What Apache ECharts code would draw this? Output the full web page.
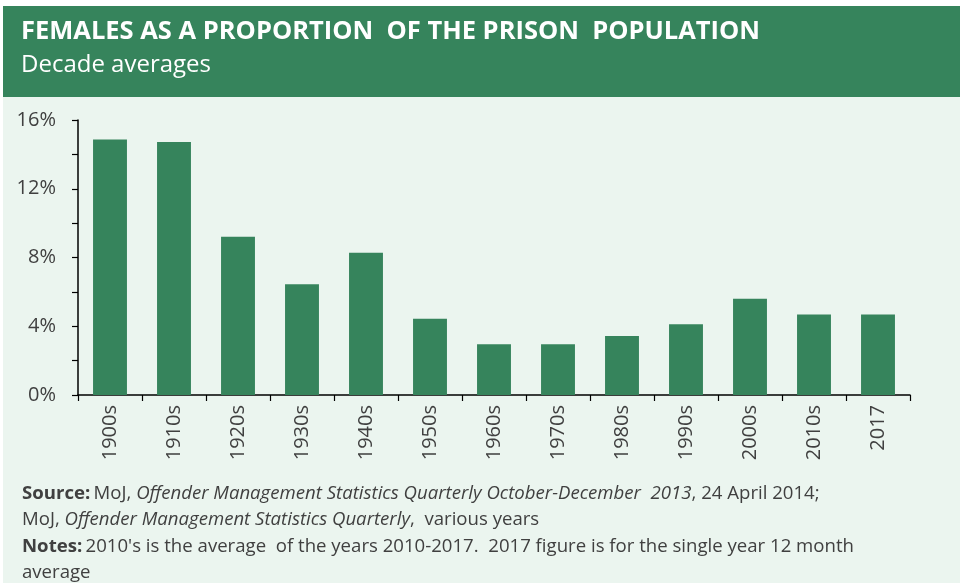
<!DOCTYPE html>
<html><head><meta charset="utf-8">
<script src="https://cdn.jsdelivr.net/npm/echarts@6/dist/echarts.min.js"></script>
<style>html,body{margin:0;padding:0;background:#fff}#c{width:960px;height:583px}</style>
</head><body><div id="c"></div>
<script>
const categories = ['1900s','1910s','1920s','1930s','1940s','1950s','1960s','1970s','1980s','1990s','2000s','2010s','2017'];
const femaleShare = [14.87, 14.72, 9.21, 6.44, 8.28, 4.44, 2.95, 2.95, 3.43, 4.11, 5.6, 4.69, 4.69];
const yTicks = [0, 4, 8, 12, 16];

const green = '#36845c';
const bg = '#ebf5ef';
const font = '"Open Sans", "DejaVu Sans", sans-serif';

const chart = echarts.init(document.getElementById('c'), null, {renderer: 'canvas'});
chart.setOption({
  backgroundColor: '#ffffff',
  animation: false,
  graphic: [
    {type: 'rect', z: -10, shape: {x: 3, y: 97, width: 957, height: 486}, style: {fill: bg}},
    {type: 'rect', z: -10, shape: {x: 3, y: 6, width: 957, height: 91}, style: {fill: green}},
    {type: 'text', left: 21, top: 19, style: {text: 'FEMALES AS A PROPORTION  OF THE PRISON  POPULATION', fill: '#fff', font: 'bold 25.5px ' + font}},
    {type: 'text', left: 21, top: 53, style: {text: 'Decade averages', fill: '#fff', font: '24px ' + font}},
    {type: 'text', left: 22, top: 480, style: {
      text: '{b|Source:} {n|MoJ, }{i|Offender Management Statistics Quarterly October-December  2013}{n|, 24 April 2014;}\n{n|MoJ, }{i|Offender Management Statistics Quarterly}{n|,  various years}\n{b|Notes:} {n|2010\'s is the average  of the years 2010-2017.  2017 figure is for the single year 12 month}\n{n|average}',
      lineHeight: 26.5,
      rich: {
        b: {font: 'bold 18.6px ' + font, fill: '#404040', lineHeight: 26.5},
        n: {font: '18.6px ' + font, fill: '#404040', lineHeight: 26.5},
        i: {font: 'italic 18.6px ' + font, fill: '#404040', lineHeight: 26.5}
      }
    }}
  ],
  grid: {left: 78, right: 50, top: 120, bottom: 188, containLabel: false},
  xAxis: {
    type: 'category',
    data: categories,
    boundaryGap: true,
    axisLine: {lineStyle: {color: '#000', width: 1.5}},
    axisTick: {show: true, length: 6, lineStyle: {color: '#000', width: 1.2}},
    axisLabel: {rotate: 90, color: '#404040', fontSize: 20, fontFamily: font, margin: 10}
  },
  yAxis: {
    type: 'value',
    min: 0, max: 16, interval: 2,
    axisLine: {show: true, lineStyle: {color: '#000', width: 1.5}},
    axisTick: {show: true, length: 6, lineStyle: {color: '#000', width: 1.2}},
    splitLine: {show: false},
    axisLabel: {
      color: '#404040', fontSize: 20, fontFamily: font, margin: 22,
      formatter: v => yTicks.includes(v) ? v + '%' : ''
    }
  },
  series: [{
    type: 'bar',
    data: femaleShare,
    barWidth: '53%',
    itemStyle: {color: green}
  }]
});
</script>
</body></html>
